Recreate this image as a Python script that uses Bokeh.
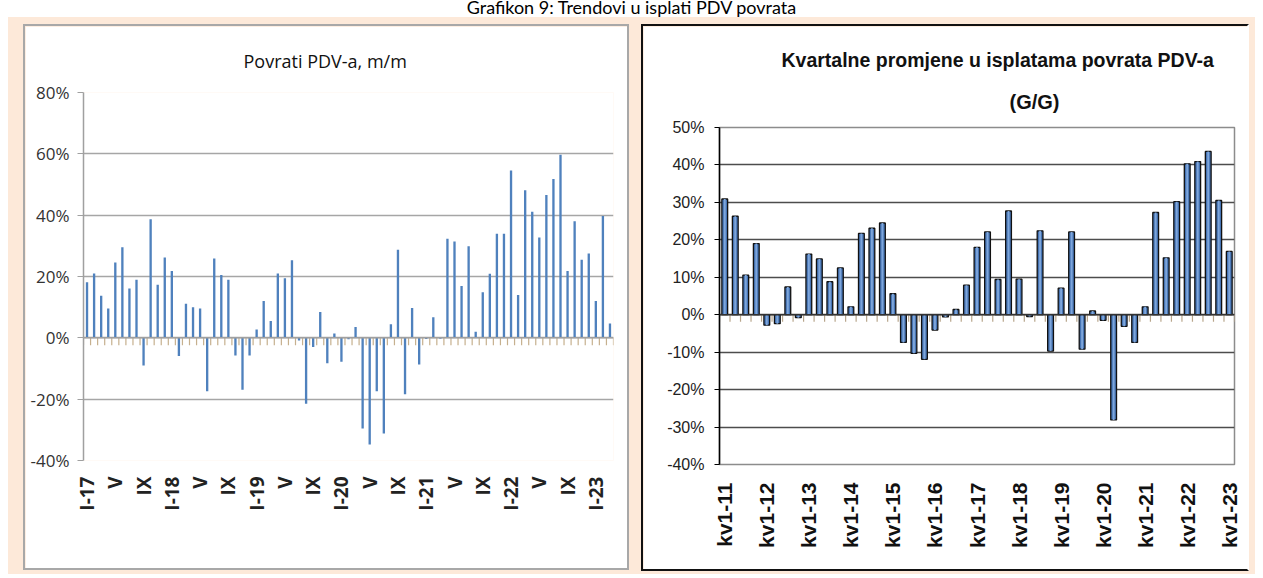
import math
from bokeh.plotting import figure
from bokeh.layouts import row, column
from bokeh.models import Div, FixedTicker, PrintfTickFormatter, Span, Title
from bokeh.embed import file_html
from bokeh.resources import INLINE

# ---------------- data ----------------
page_title = "Grafikon 9: Trendovi u isplati PDV povrata"
left_title = "Povrati PDV-a, m/m"
right_title_1 = "Kvartalne promjene u isplatama povrata PDV-a"
right_title_2 = "(G/G)"

roman = ["I", "II", "III", "IV", "V", "VI", "VII", "VIII", "IX", "X", "XI", "XII"]
months = [f"{roman[m]}-{y}" for y in range(17, 24) for m in range(12)][:75]   # I-17 .. III-23
left_tick_labels = ["I-17", "V", "IX", "I-18", "V", "IX", "I-19", "V", "IX", "I-20", "V", "IX",
                    "I-21", "V", "IX", "I-22", "V", "IX", "I-23"]
mom_values = [
    18.1, 21.0, 13.7, 9.6, 24.6, 29.5, 16.1, 18.9, -9.0, 38.7, 17.3, 26.2,      # 2017
    21.8, -5.9, 11.1, 10.0, 9.6, -17.4, 25.9, 20.5, 18.9, -5.8, -16.9, -5.8,    # 2018
    2.7, 12.0, 5.5, 21.0, 19.4, 25.3, -0.9, -21.5, -3.0, 8.4, -8.3, 1.4,        # 2019
    -7.8, -0.5, 3.5, -29.6, -34.8, -17.4, -31.2, 4.4, 28.7, -18.4, 9.7, -8.7,   # 2020
    -0.4, 6.7, -0.3, 32.3, 31.4, 16.9, 29.9, 2.0, 14.9, 20.9, 33.9, 33.9,       # 2021
    54.6, 14.0, 48.1, 41.1, 32.7, 46.6, 51.8, 59.7, 21.8, 38.0, 25.5, 27.5,     # 2022
    12.0, 39.7, 4.7,                                                             # 2023
]
left_ticks_y = [-40, -20, 0, 20, 40, 60, 80]

quarters = [f"kv{q}-{y}" for y in range(11, 24) for q in range(1, 5)][:49]    # kv1-11 .. kv1-23
right_tick_labels = ["kv1-11", "kv1-12", "kv1-13", "kv1-14", "kv1-15", "kv1-16", "kv1-17",
                     "kv1-18", "kv1-19", "kv1-20", "kv1-21", "kv1-22", "kv1-23"]
yoy_values = [
    30.9, 26.3, 10.6, 19.0,     # 2011
    -2.8, -2.4, 7.4, -0.8,      # 2012
    16.2, 14.9, 8.8, 12.5,      # 2013
    2.1, 21.7, 23.1, 24.5,      # 2014
    5.6, -7.4, -10.3, -11.9,    # 2015
    -4.1, -0.6, 1.4, 7.9,       # 2016
    18.0, 22.1, 9.4, 27.7,      # 2017
    9.5, -0.5, 22.4, -9.7,      # 2018
    7.1, 22.1, -9.2, 1.0,       # 2019
    -1.5, -28.1, -3.1, -7.4,    # 2020
    2.1, 27.3, 15.2, 30.2,      # 2021
    40.3, 40.9, 43.6, 30.5,     # 2022
    16.9,                       # 2023
]
right_ticks_y = [-40, -30, -20, -10, 0, 10, 20, 30, 40, 50]
label_every = 4

PEACH = "#FDE9D9"

# ---------------- left chart ----------------
nl = len(months)
xl = list(range(nl))
lf = figure(width=606, height=546, x_range=(-0.5, nl - 0.5), y_range=(-40, 80),
            output_backend="svg", toolbar_location=None, frame_align=False,
            min_border_left=58, min_border_right=18, min_border_top=66, min_border_bottom=112,
            background_fill_color="white", border_fill_color="white", outline_line_color=None,
            margin=(7, 0, 4, 15), styles={"border": "2px solid #A8A8A8"})

lf.title.text = left_title
lf.title.text_font = "Open Sans"
lf.title.text_font_size = "18px"
lf.title.text_font_style = "normal"
lf.title.text_color = "#111111"
lf.title.align = "left"
lf.title.offset = 160
lf.title.vertical_align = "top"
lf.title.standoff = 35

lf.ygrid.grid_line_color = "#A6A6A6"
lf.ygrid.grid_line_width = 1.5
lf.xgrid.grid_line_color = None

lf.yaxis.ticker = FixedTicker(ticks=left_ticks_y)
lf.yaxis.formatter = PrintfTickFormatter(format="%d%%")
lf.yaxis.axis_line_color = "#A0A0A0"
lf.yaxis.axis_line_width = 1.5
lf.yaxis.major_tick_line_color = "#A0A0A0"
lf.yaxis.major_tick_out = 6
lf.yaxis.major_tick_in = 0
lf.yaxis.minor_tick_line_color = None
lf.yaxis.major_label_standoff = 8
lf.yaxis.major_label_text_font = "Open Sans"
lf.yaxis.major_label_text_font_size = "17px"
lf.yaxis.major_label_text_color = "#333333"

lpos = list(range(0, nl, label_every))[:len(left_tick_labels)]
lf.xaxis.ticker = FixedTicker(ticks=lpos)
lf.xaxis.major_label_overrides = {p: t for p, t in zip(lpos, left_tick_labels)}
lf.xaxis.major_label_orientation = math.pi / 2
lf.xaxis.axis_line_color = None
lf.xaxis.major_tick_line_color = None
lf.xaxis.minor_tick_line_color = None
lf.xaxis.major_tick_out = 0
lf.xaxis.major_tick_in = 0
lf.xaxis.major_label_standoff = 16
lf.xaxis.major_label_text_font = "Open Sans"
lf.xaxis.major_label_text_font_size = "19px"
lf.xaxis.major_label_text_font_style = "bold"
lf.xaxis.major_label_text_color = "#222222"

lf.add_layout(Span(location=0, dimension="width", line_color="#A0A0A0", line_width=1.5))
lb = [i - 0.5 for i in range(nl + 1)]
lf.segment(x0=lb, y0=[0] * len(lb), x1=lb, y1=[-2.4] * len(lb), line_color="#C6B08E", line_width=1.2)
lf.vbar(x=xl, top=mom_values, width=0.33, fill_color="#4F81BD", line_color=None)

# ---------------- right chart ----------------
nr = len(quarters)
xr = list(range(nr))
rf = figure(width=608, height=547, x_range=(-0.5, nr - 0.5), y_range=(-40, 50),
            output_backend="svg", toolbar_location=None, frame_align=False,
            min_border_left=76, min_border_right=17, min_border_top=101, min_border_bottom=109,
            background_fill_color="white", border_fill_color="white",
            outline_line_color="#8C8C8C", outline_line_width=1.5,
            margin=(7, 6, 3, 12),
            styles={"border": "2px solid #111111", "border-right": "2px solid #FFFFFF"})

# outermost title line
rf.title.text = right_title_1
rf.title.text_font = "Liberation Sans"
rf.title.text_font_size = "19.5px"
rf.title.text_font_style = "bold"
rf.title.text_color = "#111111"
rf.title.align = "left"
rf.title.offset = 62
rf.title.vertical_align = "top"
rf.title.standoff = 9
# line next to the plot frame
rf.add_layout(Title(text=right_title_2, text_font="Liberation Sans", text_font_size="20px",
                    text_font_style="bold", text_color="#111111", align="left", offset=290,
                    vertical_align="top", standoff=26), "above")

rf.ygrid.grid_line_color = "#4D4D4D"
rf.ygrid.grid_line_width = 1.5
rf.xgrid.grid_line_color = None

rf.yaxis.ticker = FixedTicker(ticks=right_ticks_y)
rf.yaxis.formatter = PrintfTickFormatter(format="%d%%")
rf.yaxis.axis_line_color = "#000000"
rf.yaxis.axis_line_width = 1.5
rf.yaxis.major_tick_line_color = "#000000"
rf.yaxis.major_tick_out = 5
rf.yaxis.major_tick_in = 0
rf.yaxis.minor_tick_line_color = None
rf.yaxis.major_label_standoff = 10
rf.yaxis.major_label_text_font = "Liberation Sans"
rf.yaxis.major_label_text_font_size = "16px"
rf.yaxis.major_label_text_color = "#222222"

rpos = list(range(0, nr, label_every))[:len(right_tick_labels)]
rf.xaxis.ticker = FixedTicker(ticks=rpos)
rf.xaxis.major_label_overrides = {p: t for p, t in zip(rpos, right_tick_labels)}
rf.xaxis.major_label_orientation = math.pi / 2
rf.xaxis.axis_line_color = None
rf.xaxis.major_tick_line_color = None
rf.xaxis.minor_tick_line_color = None
rf.xaxis.major_tick_out = 0
rf.xaxis.major_tick_in = 0
rf.xaxis.major_label_standoff = 18
rf.xaxis.major_label_text_font = "Liberation Sans"
rf.xaxis.major_label_text_font_size = "21px"
rf.xaxis.major_label_text_font_style = "bold"
rf.xaxis.major_label_text_color = "#111111"

rb = [i - 0.5 for i in range(nr + 1)]
rf.segment(x0=rb, y0=[0] * len(rb), x1=rb, y1=[-1.9] * len(rb), line_color="#B8A68C", line_width=1.2)
rf.add_layout(Span(location=0, dimension="width", line_color="#333333", line_width=1.5))
rf.vbar(x=xr, top=yoy_values, width=0.55, fill_color="#4674B4", line_color="#111111", line_width=1.3)
rf.vbar(x=xr, top=yoy_values, width=0.18, fill_color="#7EA6DB", line_color=None)

# ---------------- page ----------------
title_div = Div(
    text=('<div style="position:relative;top:-2px;width:1263px;text-align:center;'
          'font-family:Lato;font-size:18px;line-height:18px;color:#000;'
          f'white-space:nowrap;">{page_title}</div>'),
    width=1263, height=17, margin=(0, 0, 0, 0))

panels = row(lf, rf, spacing=0, margin=(0, 0, 0, 8), styles={"background-color": PEACH})
layout = column(title_div, panels, spacing=0)

open("out.html", "w").write(file_html(layout, INLINE))
